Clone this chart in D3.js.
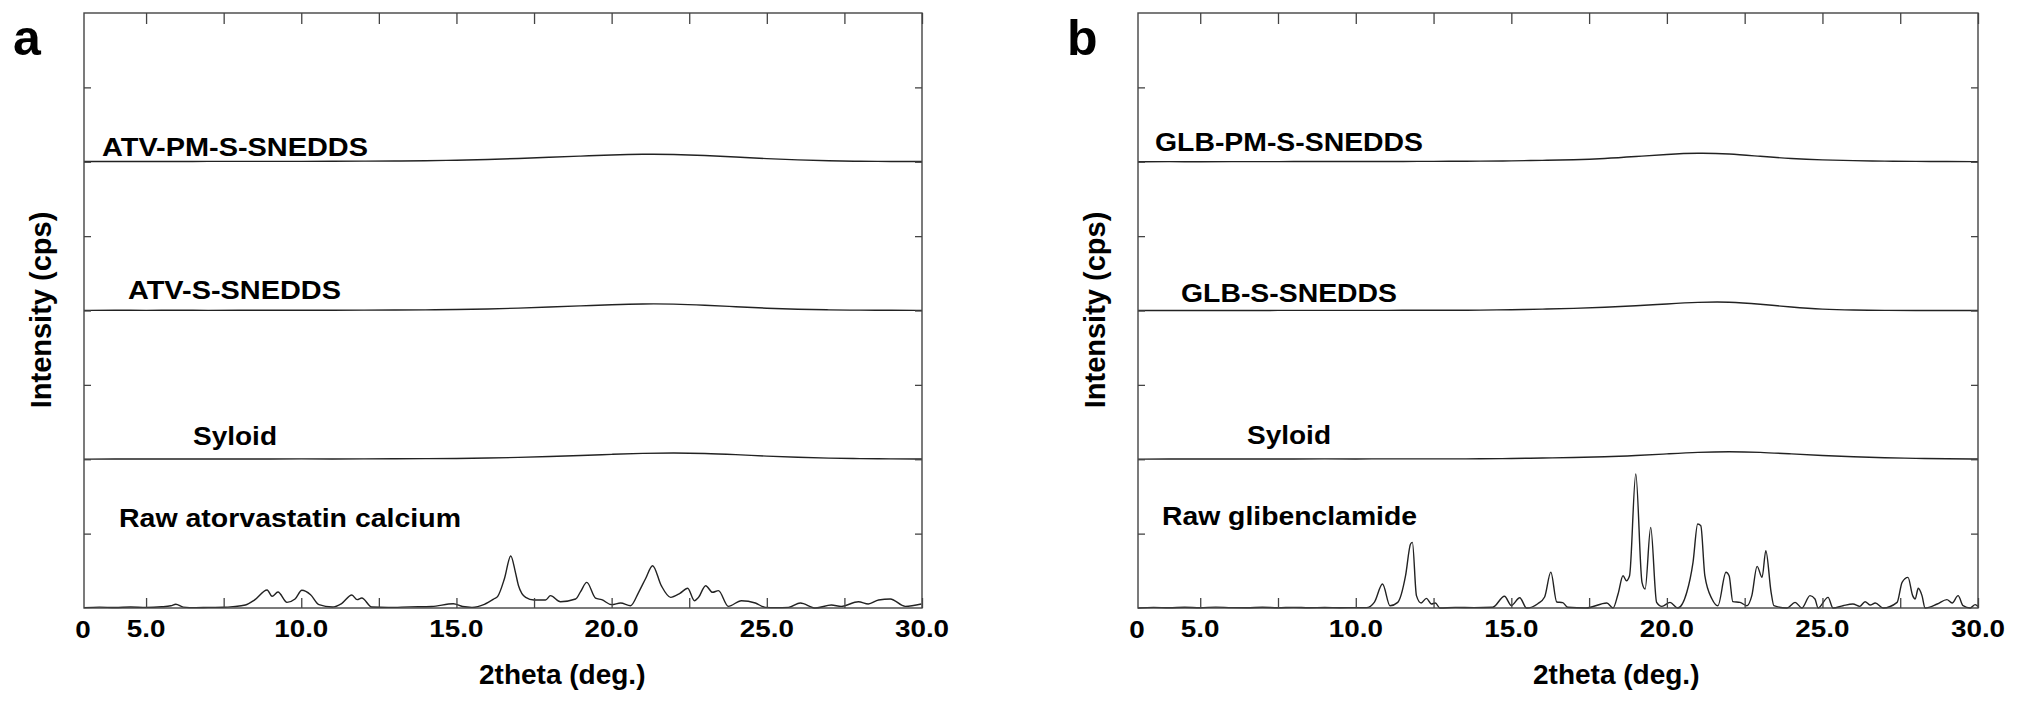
<!DOCTYPE html>
<html>
<head>
<meta charset="utf-8">
<script src="https://cdn.jsdelivr.net/npm/d3@7"></script>
<style>
  body { margin: 0; background: #fff; }
  svg { display: block; font-family: "Liberation Sans", Arial, sans-serif; font-weight: bold; }
</style>
</head>
<body>
<svg id="vis" width="2018" height="706"></svg>
<script>
// stacked XRD patterns, offsets in cps
var panelNames = ["a", "b"];
var seriesLabels = [
	["ATV-PM-S-SNEDDS", "ATV-S-SNEDDS", "Syloid", "Raw atorvastatin calcium"],
	["GLB-PM-S-SNEDDS", "GLB-S-SNEDDS", "Syloid", "Raw glibenclamide"]
];
var offsets = [6000, 4000, 2000, 0];
var xTicks = [5, 7.5, 10, 12.5, 15, 17.5, 20, 22.5, 25, 27.5, 30];
var xLabels = [5, 10, 15, 20, 25, 30];
var yTicks = [1000, 2000, 3000, 4000, 5000, 6000, 7000];

// amorphous halos read at 1 deg steps
var haloTheta = [3, 4, 5, 6, 7, 8, 9, 10, 11, 12, 13, 14, 15, 16, 17, 18, 19, 20, 21, 22, 23, 24, 25, 26, 27, 28, 29, 30];
var atvPM  = [3, 2, 4, 3, 5, 4, 6, 5, 7, 8, 10, 14, 20, 30, 44, 60, 76, 92, 102, 100, 86, 64, 42, 24, 12, 6, 4, 3];
var atvS   = [2, 3, 2, 3, 2, 3, 4, 3, 4, 5, 6, 8, 12, 20, 32, 46, 62, 78, 90, 88, 72, 50, 30, 16, 8, 4, 3, 2];
var atvSyl = [2, 3, 3, 2, 4, 3, 4, 5, 4, 5, 6, 8, 10, 16, 24, 36, 50, 66, 80, 86, 80, 62, 42, 26, 14, 8, 5, 3];
var glbPM  = [0, 2, 0, 2, 1, 3, 2, 4, 3, 5, 6, 8, 12, 18, 26, 42, 70, 100, 118, 108, 72, 42, 24, 14, 8, 5, 3, 2];
var glbS   = [0, 0, 1, 1, 1, 1, 2, 2, 2, 3, 3, 5, 10, 18, 28, 42, 62, 88, 112, 118, 85, 45, 15, 5, 2, 0, 0, 0];
var glbSyl = [2, 3, 2, 4, 3, 4, 5, 4, 5, 6, 5, 6, 10, 16, 24, 32, 50, 72, 95, 105, 95, 72, 50, 32, 20, 12, 6, 4];

var rawAtvTheta = [3, 3.5, 4, 4.5, 5, 5.5, 5.8, 5.96, 6.2, 6.6, 7, 7.5, 7.8, 8.2, 8.5, 8.9, 9.06, 9.25, 9.54, 9.8,
	10.02, 10.3, 10.57, 11, 11.3, 11.63, 11.8, 11.95, 12.27, 12.8, 13.5, 14.2, 14.9, 15.2, 15.5, 15.9, 16.2, 16.33, 16.55, 16.75,
	16.9, 17, 17.23, 17.5, 17.87, 18.03, 18.35, 18.84, 19, 19.2, 19.48, 19.68, 20, 20.29, 20.61, 20.87, 21.1, 21.32, 21.6, 21.9,
	22.2, 22.45, 22.67, 22.8, 23.03, 23.25, 23.44, 23.76, 24.18, 24.63, 24.95, 25.3, 25.7, 26.08, 26.57, 27.08, 27.4, 27.95, 28.27, 28.6,
	28.98, 29.46, 29.98];
var rawAtvI = [5, 12, 6, 14, 8, 16, 30, 50, 12, 5, 8, 10, 18, 40, 110, 242, 157, 215, 76, 120,
	238, 179, 45, 13, 60, 175, 112, 134, 13, 8, 15, 20, 58, 20, 9, 50, 121, 157, 400, 700,
	480, 300, 143, 108, 108, 166, 85, 121, 220, 345, 134, 112, 45, 67, 31, 211, 400, 569, 300, 143,
	197, 265, 98, 143, 300, 211, 233, 22, 98, 67, 9, 5, 9, 67, 0, 40, 22, 85, 54, 108,
	121, 22, 54];

var rawGlbTheta = [3, 3.5, 4, 4.5, 5, 5.5, 6, 6.5, 7, 7.5, 8, 8.5, 9, 9.5, 10, 10.34, 10.6, 10.86, 11.1, 11.35,
	11.6, 11.76, 11.82, 11.95, 12.1, 12.27, 12.43, 12.56, 12.7, 13.2, 13.8, 14.4, 14.78, 15, 15.27, 15.49, 15.85, 16.07, 16.27, 16.46,
	16.65, 16.81, 17.4, 18.07, 18.27, 18.43, 18.59, 18.7, 18.8, 19, 19.2, 19.3, 19.48, 19.67, 19.84, 20.1, 20.35, 20.64, 20.84, 20.99,
	21.09, 21.22, 21.45, 21.64, 21.9, 22, 22.12, 22.35, 22.57, 22.73, 22.9, 23.06, 23.18, 23.35, 23.44, 23.86, 24.12, 24.34, 24.6, 24.76,
	24.86, 25.18, 25.34, 25.66, 25.98, 26.2, 26.37, 26.53, 26.7, 26.95, 27.4, 27.56, 27.75, 27.9, 27.98, 28.08, 28.2, 28.3, 28.69, 29,
	29.17, 29.36, 29.52, 29.75, 29.91, 30];
var rawGlbI = [0, 8, 3, 10, 4, 12, 5, 3, 10, 4, 9, 3, 6, 4, 5, 5, 80, 323, 31, 76,
	434, 860, 883, 166, 67, 130, 54, 67, 0, 8, 5, 10, 158, 34, 138, 0, 58, 148, 482, 81,
	72, 10, 0, 67, 0, 188, 434, 367, 434, 1801, 345, 255, 1084, 76, 22, 76, 0, 211, 614, 1129,
	1106, 434, 121, 31, 480, 434, 85, 76, 31, 166, 560, 412, 770, 211, 31, 0, 76, 0, 166, 121,
	0, 143, 0, 31, 54, 22, 85, 40, 67, 0, 76, 345, 412, 166, 121, 265, 166, 0, 54, 112,
	67, 166, 31, 0, 45, 20];

// layout
var frames = [{left: 84, right: 922}, {left: 1138, right: 1978}];
var plotTop = 13, plotBottom = 608;
var labelPos = [
	[{dx: 18, y: 156, w: 266}, {dx: 44, y: 299, w: 213}, {dx: 109, y: 445, w: 84}, {dx: 35, y: 527, w: 342}],
	[{dx: 17, y: 151, w: 268}, {dx: 43, y: 302, w: 216}, {dx: 109, y: 444, w: 84}, {dx: 24, y: 525, w: 255}]
];

function zipSeries(t, v) {
	return t.map((d, i) => ({x: d, y: v[i]}));
}

var panelSeries = [
	[zipSeries(haloTheta, atvPM), zipSeries(haloTheta, atvS), zipSeries(haloTheta, atvSyl), zipSeries(rawAtvTheta, rawAtvI)],
	[zipSeries(haloTheta, glbPM), zipSeries(haloTheta, glbS), zipSeries(haloTheta, glbSyl), zipSeries(rawGlbTheta, rawGlbI)]
];

var svg = d3.select("#vis");

panelNames.forEach((name, p) => {
	var f = frames[p];
	var x = d3.scaleLinear().domain([3, 30]).range([f.left, f.right]);
	var y = d3.scaleLinear().domain([0, 8000]).range([plotBottom, plotTop]);
	var g = svg.append("g");

	// traces
	panelSeries[p].forEach((s, i) => {
		var line = d3.line()
		             .x(d => x(d.x))
		             .y(d => y(d.y + offsets[i]))
		             .curve(i < 3 ? d3.curveBasis : d3.curveMonotoneX);
		g.append("path")
		 .datum(s)
		 .attr("d", line)
		 .attr("fill", "none")
		 .attr("stroke", "#222")
		 .attr("stroke-width", 1.4);
	});

	// inward ticks on all four sides
	g.append("g").attr("transform", `translate(0,${plotBottom})`)
	 .call(d3.axisBottom(x).tickValues(xTicks).tickSize(-10).tickFormat(""));
	g.append("g").attr("transform", `translate(0,${plotTop})`)
	 .call(d3.axisTop(x).tickValues(xTicks).tickSize(-11).tickFormat(""));
	g.append("g").attr("transform", `translate(${f.left},0)`)
	 .call(d3.axisLeft(y).tickValues(yTicks).tickSize(-7).tickFormat(""));
	g.append("g").attr("transform", `translate(${f.right},0)`)
	 .call(d3.axisRight(y).tickValues(yTicks).tickSize(-7).tickFormat(""));
	g.selectAll(".domain").remove();
	g.selectAll(".tick line").attr("stroke", "#444").attr("stroke-width", 1.3);

	g.append("rect")
	 .attr("x", f.left).attr("y", plotTop)
	 .attr("width", f.right - f.left).attr("height", plotBottom - plotTop)
	 .attr("fill", "none").attr("stroke", "#444").attr("stroke-width", 1.4);

	// tick labels
	g.selectAll(".xl")
	 .data(xLabels)
	 .enter()
	 .append("text")
	 .attr("transform", d => `translate(${x(d)},637) scale(1.16,1)`)
	 .attr("text-anchor", "middle")
	 .attr("font-size", 24)
	 .text(d => d.toFixed(1));
	g.append("text")
	 .attr("transform", `translate(${f.left - 1},638) scale(1.16,1)`)
	 .attr("text-anchor", "middle")
	 .attr("font-size", 24)
	 .text("0");

	g.append("text")
	 .attr("x", f.left + 395).attr("y", 684)
	 .attr("font-size", 28)
	 .text("2theta (deg.)");

	g.append("text")
	 .attr("transform", `translate(${f.left - 33},310) rotate(-90)`)
	 .attr("text-anchor", "middle")
	 .attr("font-size", 29)
	 .text("Intensity (cps)");

	g.append("text")
	 .attr("x", f.left - 71).attr("y", 55)
	 .attr("font-size", 50)
	 .text(name);

	seriesLabels[p].forEach((t, i) => {
		var lp = labelPos[p][i];
		g.append("text")
		 .attr("x", f.left + lp.dx).attr("y", lp.y)
		 .attr("font-size", 26)
		 .attr("textLength", lp.w)
		 .attr("lengthAdjust", "spacingAndGlyphs")
		 .text(t);
	});
});
</script>
</body>
</html>
